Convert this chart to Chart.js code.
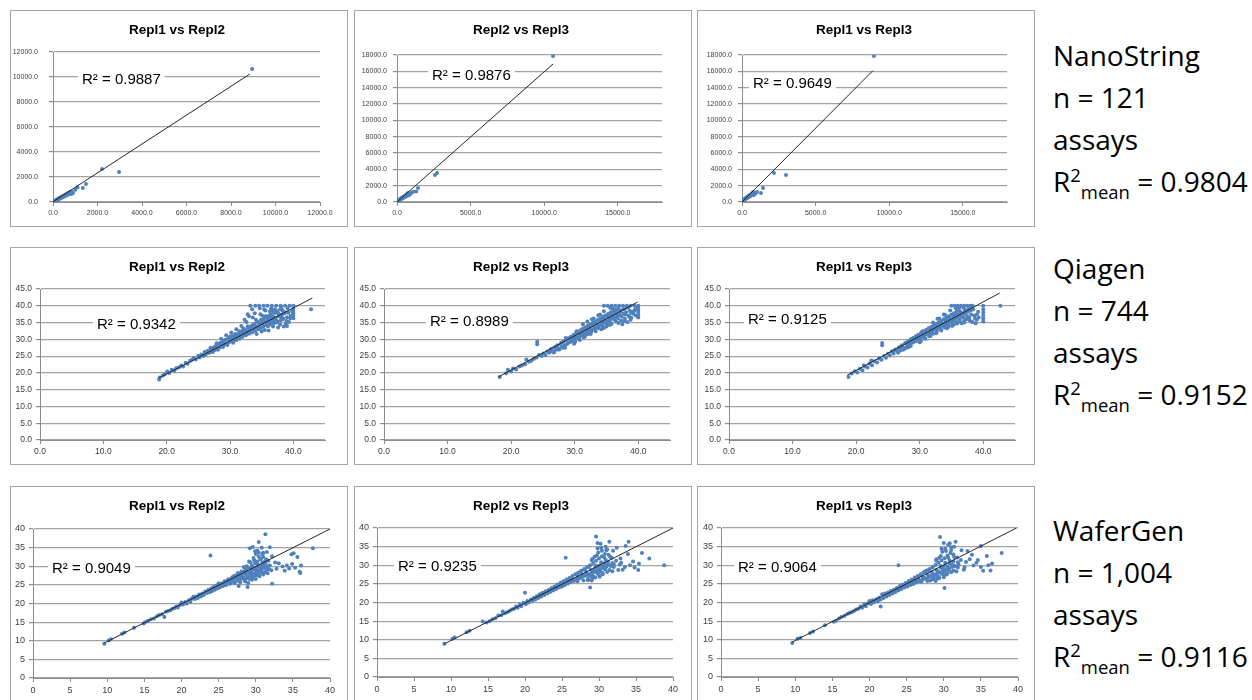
<!DOCTYPE html>
<html>
<head>
<meta charset="utf-8">
<script src="https://cdn.jsdelivr.net/npm/chart.js@4.4.1/dist/chart.umd.min.js"></script>
<style>
  body { margin: 0; background: #fff; }
  #wrap { position: relative; width: 1252px; height: 700px; overflow: hidden; background: #fff; }
  .panel { position: absolute; width: 336px; border: 1px solid #a6a6a6; background: #fff; }
  .panel canvas { display: block; }
  .side { position: absolute; left: 1053px; font: 28px 'Open Sans', sans-serif; line-height: 42px; color: #000; white-space: nowrap; }
  .sup { font-size: 0.66em; position: relative; top: -0.55em; line-height: 0; }
  .sub { font-size: 0.66em; position: relative; top: 0.38em; line-height: 0; }
</style>
</head>
<body>
<div id="wrap">
  <div class="panel" style="left:10px;top:10px"><canvas id="c0" width="336" height="215"></canvas></div>
  <div class="panel" style="left:354px;top:10px"><canvas id="c1" width="336" height="215"></canvas></div>
  <div class="panel" style="left:697px;top:10px"><canvas id="c2" width="336" height="215"></canvas></div>
  <div class="panel" style="left:10px;top:247px"><canvas id="c3" width="336" height="216"></canvas></div>
  <div class="panel" style="left:354px;top:247px"><canvas id="c4" width="336" height="216"></canvas></div>
  <div class="panel" style="left:697px;top:247px"><canvas id="c5" width="336" height="216"></canvas></div>
  <div class="panel" style="left:10px;top:486px"><canvas id="c6" width="336" height="215"></canvas></div>
  <div class="panel" style="left:354px;top:486px"><canvas id="c7" width="336" height="215"></canvas></div>
  <div class="panel" style="left:697px;top:486px"><canvas id="c8" width="336" height="215"></canvas></div>

  <div class="side" style="top:34px">NanoString<br>n = 121<br>assays<br>R<span class="sup">2</span><span class="sub">mean</span> = 0.9804</div>
  <div class="side" style="top:247px">Qiagen<br>n = 744<br>assays<br>R<span class="sup">2</span><span class="sub">mean</span> = 0.9152</div>
  <div class="side" style="top:509px">WaferGen<br>n = 1,004<br>assays<br>R<span class="sup">2</span><span class="sub">mean</span> = 0.9116</div>
</div>

<script>
// panel titles and R² values (rows: NanoString, Qiagen, WaferGen)
const titles = ["Repl1 vs Repl2", "Repl2 vs Repl3", "Repl1 vs Repl3"];
const r2Values = ["0.9887", "0.9876", "0.9649", "0.9342", "0.8989", "0.9125", "0.9049", "0.9235", "0.9064"];

// axis ranges / steps per panel: [xMax, xStep, yMax, yStep]
const axisRanges = [
  [12000, 2000, 12000, 2000], [18000, 5000, 18000, 2000], [18000, 5000, 18000, 2000],
  [45, 10, 45, 5], [45, 10, 45, 5], [45, 10, 45, 5],
  [40, 5, 40, 5], [40, 5, 40, 5], [40, 5, 40, 5]
];
// x tick labels of the two wide NanoString panels
const wideXTicks = [0, 5000, 10000, 15000];

// trendline endpoints
const trendLines = [
  [[0, 20], [8850, 10240]],
  [[0, 0], [10600, 16900]],
  [[0, 0], [8900, 16100]],
  [[18.8, 18.5], [43.0, 42.3]],
  [[18.0, 18.8], [39.9, 41.1]],
  [[18.6, 19.3], [42.6, 43.8]],
  [[9.6, 9.4], [40.0, 40.0]],
  [[9.1, 8.9], [40.0, 40.0]],
  [[9.6, 9.4], [39.8, 40.0]]
];

// NanoString
const ns12 = [[8950,10640],[2200,2640],[2970,2400],[1480,1440],[1340,1120],[1100,1180],[1000,980],
  [900,720],[860,800],[820,640],[780,760],[740,690],[700,620],[660,700],[640,560],[600,600],[580,520],[540,560],
  [520,470],[500,500],[470,420],[450,470],[420,380],[400,420],[380,340],[350,380],[330,300],[300,320],[280,260],
  [260,290],[240,220],[220,240],[200,180],[180,200],[160,140],[140,160],[120,110],[100,120],[90,80],[80,70],
  [60,60],[50,40],[40,50],[30,20],[20,30],[10,10],[5,20],[15,5],[70,90],[110,90],[150,170],[190,160],[230,260],
  [270,240],[310,350],[360,330],[410,450],[460,430],[560,610],[620,580],[680,650],[720,760],[760,700],[800,820]];
const ns23 = [[10600,17880],[2720,3550],[2580,3300],[1430,1700],[1300,1300],[1100,1250],[950,1100],
  [900,1000],[850,880],[800,1050],[760,820],[720,900],[680,760],[640,850],[600,700],[560,760],[520,620],[480,680],
  [450,560],[420,600],[380,500],[350,540],[320,440],[290,470],[260,380],[230,400],[200,320],[180,300],[160,260],
  [140,230],[120,200],[100,160],[80,130],[60,100],[40,70],[30,40],[20,30],[10,20],[5,10],[50,60],[70,120],
  [110,150],[150,210],[190,280],[240,340],[300,410],[360,480],[430,520],[500,710],[580,640],[660,930],[740,1100],[820,940]];
const ns13 = [[8960,17870],[2170,3550],[2990,3300],[1430,1700],[1290,1100],[1020,1220],[900,1000],[820,1150],
  [760,900],[700,1050],[660,820],[620,950],[580,740],[540,860],[500,660],[470,760],[440,580],[400,680],[370,520],
  [340,600],[310,460],[280,520],[250,400],[220,440],[200,340],[180,370],[160,280],[140,300],[120,220],[100,240],
  [80,170],[60,180],[50,110],[40,130],[30,60],[20,80],[10,30],[5,10],[70,140],[90,190],[130,260],[170,320],
  [210,380],[260,470],[320,540],[380,620],[450,700],[520,780],[600,880],[680,960],[740,1180],[800,850]];

// Qiagen
const qg12 = [[18.8,18.0],[18.9,18.6],[19.4,19.2],[19.7,19.6],[20.1,20.4],[20.4,20.0],[20.8,20.9],[21.2,20.7],
  [21.5,21.4],[21.9,21.6],[22.3,22.2],[22.6,21.9],[23.0,23.0],[23.3,22.7],[23.7,23.6],[24.0,23.9],[24.3,24.4],
  [24.6,24.0],[25.0,25.1],[25.2,24.6],[25.5,25.5],[25.8,25.0],[26.0,26.2],[26.2,25.6],[26.5,26.6],[26.7,25.9],
  [27.0,27.2],[27.1,26.4],[27.4,27.6],[27.6,26.8],[27.8,28.1],[28.0,27.3],[28.2,28.6],[28.4,27.6],[28.6,29.0],
  [28.8,28.1],[29.0,29.5],[29.1,28.4],[29.3,29.9],[29.5,28.7],[29.7,30.1],[29.9,29.2],[30.0,30.6],[30.2,29.5],
  [30.4,31.0],[30.5,29.0],[30.7,30.4],[30.9,31.4],[31.0,29.8],[31.2,30.9],[31.4,31.9],[31.5,30.2],[31.7,31.3],
  [31.9,32.4],[32.0,30.8],[32.2,31.8],[32.4,32.9],[32.5,31.2],[32.7,32.3],[32.9,33.5],[33.0,31.7],[33.2,32.8],
  [33.4,34.0],[33.5,32.0],[33.7,33.3],[33.9,34.6],[34.0,32.5],[34.2,33.7],[34.4,35.2],[34.5,33.0],[34.7,34.3],
  [34.9,35.8],[35.0,33.4],[35.2,34.8],[35.4,36.3],[35.5,32.8],[35.7,35.2],[35.9,36.9],[36.0,33.9],[36.2,35.6],
  [36.4,37.4],[36.5,34.4],[36.7,36.1],[36.9,37.9],[37.0,34.9],[37.2,36.5],[37.4,38.4],[37.5,35.3],[37.7,36.9],
  [37.9,38.9],[38.0,35.7],[38.2,37.3],[38.4,36.2],[38.6,37.8],[38.8,34.6],[39.0,36.6],[39.3,35.2],[39.6,37.0],
  [33.2,40],[34.0,40],[34.6,40],[35.3,40],[35.9,40],[36.6,40],[37.3,40],[38.0,40],[38.7,40],[39.4,40],
  [40,40],[40,39.2],[40,38.5],[40,37.8],[40,37.0],[40,36.3],
  [42.8,39.0],[38.5,33.8],[37.6,33.5],[36.5,39.2],[35.6,38.6],[34.8,37.5],[33.6,36.5],[32.6,35.2],[31.8,34.0],
  [31.0,33.0],[30.2,32.0],[29.4,31.2],[28.6,30.2],[39.1,39.2],[38.3,38.7],[36.1,32.6],[34.2,31.6],
  [30.3,30.0],[31.1,31.2],[31.6,30.6],[32.3,32.5],[33.1,33.0],[33.8,33.9],[34.6,34.6],[35.3,35.4],[36.0,36.2],
  [36.8,36.8],[37.6,37.8],[38.4,38.2],[34.1,35.8],[35.1,37.0],[36.3,38.3],[37.1,39.0],[35.8,34.2],[36.6,35.0],
  [37.3,35.7],[38.1,36.5],[33.3,33.8],[32.8,32.0],[29.8,30.5],[28.9,29.3],[27.9,28.8],[27.3,27.0],[26.4,26.2],
  [26.1,25.3],[26.9,27.4],[27.3,26.2],[27.7,27.8],[28.1,26.9],[28.5,28.9],[28.9,27.7],[29.2,29.8],[29.6,28.3],
  [30.1,30.9],[30.6,29.6],[30.8,31.6],[31.3,30.5],[31.5,32.4],[31.9,31.1],[32.1,33.2],[32.6,31.5],[32.8,33.9],
  [33.1,32.2],[33.6,34.3],[33.8,32.9],[34.3,35.3],[34.5,33.6],[34.9,34.9],[35.3,33.9],[35.6,36.9],[35.9,35.5],
  [36.2,34.7],[36.4,36.5],[36.7,38.6],[36.9,35.6],[37.2,37.9],[37.4,35.0],[37.8,37.4],[38.1,39.4],[38.3,36.0],
  [38.7,38.0],[38.9,35.5],[39.2,37.9],[39.5,36.3],[39.8,38.4],[34.7,39.3],[35.4,38.9],[33.9,37.8],[33.0,36.9],
  [32.3,35.8],[35.0,32.3],[36.8,33.8],[37.9,34.4],[39.0,34.0],[33.5,39.0],[32.8,37.5]];
const qg23 = [[18.2,18.8],[19.2,19.9],[19.5,20.9],[20.0,20.4],[20.3,21.3],[20.8,21.0],[21.3,21.9],[21.7,22.2],
  [22.2,22.6],[22.4,24.0],[22.8,23.3],[23.2,23.6],[23.6,24.2],[24.1,29.3],[24.1,28.5],[24.0,24.6],[24.4,25.3],
  [24.8,25.0],[25.1,25.8],[25.4,25.3],[25.7,26.4],[26.0,26.0],[26.3,27.1],[26.5,26.4],[26.8,27.6],[27.0,26.9],
  [27.3,28.2],[27.5,27.3],[27.8,28.7],[28.0,27.8],[28.2,29.3],[28.4,28.2],[28.6,29.8],[28.8,28.6],[29.0,30.3],
  [29.2,29.1],[29.4,30.8],[29.6,29.5],[29.8,31.3],[30.0,30.0],[30.2,31.8],[30.4,30.4],[30.6,32.3],[30.8,30.9],
  [31.0,32.8],[31.1,31.3],[31.3,33.2],[31.5,31.7],[31.7,33.6],[31.9,32.1],[32.1,34.1],[32.3,32.5],[32.5,34.5],
  [32.7,32.9],[32.9,35.0],[33.1,33.3],[33.3,35.4],[33.5,33.7],[33.7,35.9],[33.9,34.1],[34.1,36.3],[34.3,34.6],
  [34.5,36.8],[34.7,35.0],[34.9,37.2],[35.1,35.4],[35.3,37.6],[35.5,35.8],[35.7,38.1],[35.9,36.2],[36.1,38.5],
  [36.3,36.6],[36.5,38.9],[36.7,36.9],[36.9,39.3],[37.1,37.3],[37.3,35.6],[37.5,34.5],[37.7,37.7],[37.9,36.2],
  [38.1,38.1],[38.3,35.2],[38.5,37.0],[38.7,38.5],[38.9,36.4],[39.2,37.6],[39.5,38.8],
  [34.6,40],[35.2,40],[35.8,40],[36.4,40],[37.0,40],[37.6,40],[38.2,40],[38.8,40],[39.4,40],
  [40,40],[40,39.3],[40,38.6],[40,37.9],[40,37.2],[40,36.5],
  [29.5,29.9],[30.1,30.8],[30.7,31.3],[31.2,32.0],[31.8,32.7],[32.4,33.3],[33.0,34.0],[33.6,34.6],[34.2,35.3],
  [34.8,35.9],[35.4,36.6],[36.0,37.2],[36.6,37.8],[37.2,38.4],[37.8,39.0],[38.4,39.4],[35.0,33.8],[35.8,34.6],
  [36.5,35.3],[34.2,33.0],[33.3,32.4],[32.5,31.6],[31.6,30.8],[30.8,29.8],[32.0,35.3],[33.0,36.2],[34.0,37.4],
  [29.9,28.7],[28.5,27.5],[27.6,27.0],[26.8,26.3],
  [26.2,26.9],[26.7,26.1],[27.1,27.9],[27.4,27.0],[27.9,29.0],[28.1,27.5],[28.6,30.4],[28.9,28.9],[29.3,29.3],
  [29.7,30.6],[30.1,29.3],[30.3,32.4],[30.7,30.0],[31.0,31.6],[31.4,30.6],[31.6,32.9],[32.0,31.5],[32.2,33.6],
  [32.6,32.2],[32.8,34.3],[33.2,32.8],[33.4,34.8],[33.8,33.3],[34.0,35.7],[34.4,34.0],[34.6,36.2],[35.0,34.7],
  [35.2,36.9],[35.6,35.1],[35.8,37.4],[36.2,35.9],[36.4,37.9],[36.8,36.2],[37.0,38.6],[37.4,36.8],[37.6,39.0],
  [38.0,37.4],[38.2,39.6],[38.6,36.7],[38.9,37.9],[39.3,38.4],[39.6,37.1],[39.8,39.6],[33.7,37.2],[34.6,38.4],
  [35.6,39.4],[32.7,36.0],[36.9,34.9],[37.8,35.5],[38.8,35.8],[35.5,34.3],[34.6,33.4],[36.0,39.1],[31.3,34.5]];
const qg13 = [[18.8,18.8],[19.3,19.8],[19.8,20.5],[20.2,20.1],[20.6,21.2],[21.0,20.8],[21.4,21.9],[21.8,21.6],
  [22.1,22.8],[22.5,22.3],[22.9,23.5],[23.3,23.1],[23.6,24.3],[24.0,23.9],[24.1,28.9],[24.1,28.2],[24.4,25.0],
  [24.7,24.5],[25.0,25.7],[25.3,25.2],[25.6,26.4],[25.9,25.8],[26.2,27.0],[26.5,26.4],[26.7,27.6],[27.0,26.9],
  [27.2,28.2],[27.5,27.5],[27.7,28.8],[28.0,28.0],[28.2,29.4],[28.4,28.5],[28.6,29.9],[28.8,29.0],[29.0,30.4],
  [29.2,29.5],[29.4,30.9],[29.6,29.9],[29.8,31.4],[30.0,30.3],[30.2,31.9],[30.4,30.8],[30.6,32.4],[30.8,31.2],
  [31.0,32.8],[31.2,31.6],[31.4,33.3],[31.6,32.0],[31.8,33.7],[32.0,32.5],[32.2,34.2],[32.4,32.9],[32.6,34.6],
  [32.8,33.3],[33.0,35.1],[33.2,33.7],[33.4,35.5],[33.6,34.1],[33.8,36.0],[34.0,34.5],[34.2,36.4],[34.4,34.9],
  [34.6,36.9],[34.8,35.3],[35.0,37.3],[35.2,35.7],[35.4,37.8],[35.6,36.1],[35.8,38.2],[36.0,36.5],[36.2,38.6],
  [36.4,36.9],[36.6,34.8],[36.8,37.3],[37.0,35.4],[37.2,37.7],[37.4,36.0],[37.6,38.2],[37.8,36.4],[38.0,38.6],
  [38.3,35.2],[38.6,37.0],[38.8,34.8],[39.0,35.8],[39.2,38.2],
  [35.0,40],[35.5,40],[36.0,40],[36.5,40],[37.0,40],[37.5,40],[38.0,40],[38.3,40],
  [40,40],[40,39.0],[40,38.0],[40,37.0],[40,36.2],[40,35.3],[42.7,40.0],
  [29.3,30.0],[29.9,30.7],[30.5,31.3],[31.1,32.0],[31.7,32.6],[32.3,33.3],[32.9,33.9],[33.5,34.6],[34.1,35.2],
  [34.7,35.9],[35.3,36.5],[35.9,37.1],[36.5,37.7],[37.1,38.3],[37.7,38.9],[38.3,39.3],[35.1,34.0],[35.9,34.7],
  [36.3,35.5],[34.3,33.3],[33.4,32.6],[32.6,31.8],[31.7,31.0],[30.9,30.2],[32.1,35.0],[33.1,36.2],[34.0,37.3],
  [36.9,39.4],[30.0,29.1],[28.6,28.0],[27.7,27.3],[26.9,26.6],[22.4,23.7],[21.2,22.3],
  [26.0,26.7],[26.6,26.0],[27.0,27.8],[27.4,26.9],[27.9,29.0],[28.2,27.6],[28.7,30.2],[29.0,29.1],[29.4,29.4],
  [29.8,30.7],[30.2,29.5],[30.4,32.3],[30.8,30.3],[31.1,31.7],[31.5,30.9],[31.7,33.1],[32.1,31.7],[32.3,33.7],
  [32.7,32.3],[32.9,34.4],[33.3,33.0],[33.5,34.9],[33.9,33.5],[34.1,35.8],[34.5,34.2],[34.7,36.3],[35.1,34.8],
  [35.3,37.0],[35.7,35.3],[35.9,37.5],[36.3,36.0],[36.5,38.1],[36.9,36.4],[37.1,38.8],[37.5,36.9],[37.7,39.2],
  [38.1,37.4],[38.4,38.9],[38.7,36.2],[39.0,37.4],[39.3,36.5],[33.8,37.4],[34.8,38.6],[35.7,39.3],[32.8,36.1],
  [37.0,35.0],[37.9,35.6],[35.4,34.4],[34.5,33.7],[36.2,39.3]];

// WaferGen
const wg12 = [[9.6,9.2],[10.2,10.1],[10.5,10.4],[12.0,11.9],[12.3,12.2],[13.6,13.5],[14.9,14.6],[15.1,15.0],
  [15.5,15.4],[15.9,15.8],[16.3,16.0],[16.7,16.6],[17.0,16.9],[17.4,17.1],[17.7,16.4],[17.9,17.8],[18.2,18.0],
  [18.5,18.2],[18.8,18.6],[19.0,18.7],[19.3,19.2],[19.5,18.9],[19.8,19.6],[20.0,20.3],[20.2,19.7],[20.5,20.4],
  [20.7,20.0],[21.0,20.9],[21.2,20.5],[21.4,21.3],[21.6,21.8],[21.8,21.2],[22.0,21.9],[22.2,21.5],[22.4,22.4],
  [22.6,21.9],[22.8,22.7],[23.0,22.3],[23.2,23.2],[23.4,22.8],[23.6,23.6],[23.8,23.0],[24.0,24.0],[24.1,23.3],
  [24.3,24.4],[24.5,23.7],[24.7,24.8],[24.9,24.1],[25.0,25.4],[25.2,24.4],[25.4,25.4],[25.6,24.7],[25.8,26.0],
  [26.0,25.0],[26.1,25.8],[26.3,26.5],[26.5,25.3],[26.6,26.2],[26.8,27.0],[27.0,25.8],[27.1,26.6],[27.3,27.5],
  [27.5,26.1],[27.6,27.0],[27.8,28.0],[28.0,26.6],[28.1,27.4],[28.3,28.5],[28.4,26.9],[28.6,27.9],[28.7,29.0],
  [28.9,27.3],[29.0,28.3],[29.1,29.6],[29.3,27.6],[29.4,28.7],[29.5,30.2],[29.7,28.0],[29.8,29.2],[29.9,30.8],
  [30.0,28.4],[30.1,29.7],[30.2,31.3],[30.3,28.8],[30.5,30.0],[30.6,31.8],[30.7,29.2],[30.9,30.4],[31.0,32.5],
  [31.1,29.5],[31.3,30.8],[31.5,29.0],[31.7,31.5],[31.9,30.2],[32.1,28.9],
  [26.9,26.5],[27.4,26.9],[27.9,27.6],[28.4,28.0],[28.9,28.5],[29.4,29.0],[29.9,29.5],[30.4,30.1],[29.6,27.2],
  [30.1,27.6],[30.6,28.2],[28.5,26.2],[29.2,26.6],[29.8,31.6],[30.4,32.6],[29.3,31.0],[28.8,30.0],[30.9,33.2],
  [31.2,31.2],[31.6,30.0],[26.4,25.9],[25.5,25.1],[24.6,24.3],
  [23.9,32.9],[31.3,38.6],[30.4,36.5],[29.6,35.2],[30.8,35.0],[31.9,35.1],[29.2,34.8],[30.2,34.2],[32.2,25.3],
  [28.9,24.4],[33.1,30.8],[33.6,29.9],[34.2,30.2],[34.8,33.2],[35.1,33.5],[35.6,32.5],[35.3,29.6],[36.0,28.2],
  [36.1,30.2],[34.5,29.4],[32.6,31.0],[32.2,32.7],[37.7,34.8],[35.9,28.5],[34.9,30.6],[32.8,29.3],[33.9,28.8],
  [31.5,33.8],[30.0,33.3],[28.4,29.8],[27.7,24.7],
  [27.2,25.5],[27.6,26.4],[27.9,25.7],[28.2,27.0],[28.6,25.9],[28.8,26.8],[29.0,25.5],[29.1,27.0],[29.3,28.2],
  [29.5,26.4],[29.6,29.5],[29.8,27.5],[30.0,29.0],[30.0,26.6],[30.2,28.1],[30.3,30.4],[30.5,27.3],[30.6,29.4],
  [30.8,28.6],[30.9,31.0],[31.0,27.8],[31.1,30.1],[31.2,28.4],[31.4,29.5],[31.6,28.1],[31.8,29.2],[31.4,31.9],
  [30.7,32.0],[29.7,32.2],[29.1,31.3],[28.6,29.3],[28.1,28.6],[27.6,28.2],[27.0,27.3],[26.6,25.6],[26.2,26.0],
  [25.8,25.4],[25.3,24.9],[24.8,24.5],[24.3,23.9],[23.8,23.5],[23.3,23.0],[22.8,22.4],[22.3,22.0],[30.4,33.7],
  [31.0,33.6],[29.9,34.0]];
const wg23 = [[9.1,8.9],[10.2,10.3],[10.5,10.6],[12.1,12.0],[12.5,12.4],[14.3,14.9],[14.8,14.6],[15.2,15.0],
  [15.6,15.5],[16.0,15.8],[16.4,16.5],[16.8,16.6],[17.0,17.6],[17.3,17.1],[17.6,17.4],[17.9,17.7],[18.2,18.1],
  [18.5,18.3],[18.8,18.9],[19.0,18.6],[19.3,19.4],[19.5,19.0],[19.8,19.9],[20.0,22.6],[20.1,19.5],[20.3,20.4],
  [20.5,20.0],[20.8,20.8],[21.0,20.4],[21.2,21.3],[21.4,20.8],[21.6,21.7],[21.8,21.2],[22.0,22.2],[22.2,21.6],
  [22.4,22.6],[22.6,22.0],[22.8,23.0],[23.0,22.4],[23.2,23.4],[23.4,22.8],[23.6,23.9],[23.8,23.2],[24.0,24.3],
  [24.2,23.6],[24.4,24.8],[24.6,24.0],[24.8,25.3],[25.0,24.3],[25.2,25.7],[25.4,24.7],[25.5,32.0],[25.6,26.2],
  [25.8,25.1],[26.0,26.6],[26.2,25.5],[26.4,27.1],[26.6,25.8],[26.8,27.6],[27.0,26.2],[27.2,28.0],[27.4,26.5],
  [27.6,28.5],[27.8,26.9],[28.0,29.0],[28.2,27.2],[28.4,29.5],[28.6,27.6],[28.8,24.0],[28.8,30.0],[29.0,27.9],
  [29.2,30.6],[29.4,28.2],[29.6,31.2],[29.6,37.7],[29.8,28.6],[30.0,31.8],[30.2,29.0],[30.4,32.4],[30.6,29.3],
  [30.8,33.0],[31.0,29.6],[31.2,31.0],[31.4,36.3],[31.5,29.9],[31.7,32.0],[32.0,30.3],[32.3,31.2],[32.6,28.7],
  [26.5,26.3],[27.1,26.9],[27.7,27.5],[28.3,28.1],[28.9,28.7],[29.5,29.3],[30.1,29.9],[30.7,30.5],[29.3,26.9],
  [30.0,27.4],[30.5,27.9],[28.5,26.0],[29.1,26.5],[29.9,33.4],[30.3,34.6],[29.4,32.3],[29.0,31.4],[30.9,35.0],
  [31.3,32.8],[31.8,30.6],[26.1,25.9],[25.3,25.0],[24.5,24.4],[30.2,35.8],[29.8,36.0],[31.0,34.0],
  [33.6,35.2],[34.0,36.3],[35.8,33.3],[36.8,31.8],[38.8,30.0],[35.3,28.7],[35.4,30.5],[34.2,30.0],[33.0,30.7],
  [33.5,29.5],[32.9,31.8],[34.6,31.0],[33.9,33.0],[32.4,34.7],[32.8,30.2],[31.9,33.9],[33.2,28.8],[34.8,29.4],
  [27.1,25.7],[27.5,26.7],[27.9,25.9],[28.1,27.3],[28.5,26.3],[28.7,27.1],[29.0,25.9],[29.1,27.3],[29.3,28.5],
  [29.5,26.7],[29.6,29.9],[29.8,27.8],[30.0,29.4],[30.1,26.9],[30.2,28.4],[30.3,30.8],[30.5,27.6],[30.6,29.7],
  [30.8,28.9],[30.9,31.4],[31.1,28.2],[31.2,30.3],[31.4,28.7],[31.6,29.8],[31.8,28.4],[32.0,29.5],[31.5,32.3],
  [30.7,32.1],[29.7,32.6],[29.1,31.7],[28.6,29.5],[28.1,28.8],[27.6,28.4],[27.0,27.5],[26.6,25.9],[26.2,26.2],
  [25.8,25.6],[25.3,25.2],[24.8,24.7],[24.3,24.1],[23.8,23.7],[23.3,23.2],[22.8,22.7],[22.3,22.3],[30.4,33.9],
  [31.1,34.2],[29.8,34.5]];
const wg13 = [[9.6,9.1],[10.3,10.3],[10.7,10.5],[12.0,11.8],[12.4,12.2],[14.0,13.9],[15.2,14.8],[15.5,15.1],
  [15.9,15.7],[16.2,16.1],[16.6,16.4],[17.0,16.9],[17.3,17.2],[17.6,17.4],[17.9,17.7],[18.2,18.1],[18.5,18.3],
  [18.8,18.9],[19.0,18.6],[19.3,19.5],[19.5,19.0],[19.8,19.8],[20.0,20.4],[20.2,19.6],[20.4,20.6],[20.6,20.0],
  [20.9,20.9],[21.1,20.3],[21.3,21.3],[21.5,18.9],[21.5,20.8],[21.7,22.2],[21.9,21.2],[22.1,22.4],[22.3,21.6],
  [22.5,22.7],[22.7,22.0],[22.9,23.1],[23.1,22.4],[23.3,23.5],[23.5,22.8],[23.7,23.9],[23.9,30.0],[23.9,23.2],
  [24.1,24.4],[24.3,23.6],[24.5,24.8],[24.7,24.0],[24.9,25.3],[25.1,24.3],[25.3,25.8],[25.5,24.7],[25.7,26.2],
  [25.9,25.0],[26.1,26.7],[26.3,25.4],[26.5,27.1],[26.7,25.7],[26.9,27.6],[27.1,26.1],[27.3,28.1],[27.5,26.4],
  [27.7,28.6],[27.9,26.8],[28.1,29.0],[28.3,27.1],[28.5,29.6],[28.6,26.3],[28.7,27.5],[28.9,30.1],[29.1,27.8],
  [29.3,30.7],[29.5,37.6],[29.5,28.1],[29.7,31.3],[29.9,28.5],[30.0,36.0],[30.1,23.9],[30.1,31.9],[30.3,28.8],
  [30.5,32.6],[30.6,35.5],[30.7,29.2],[30.9,33.3],[31.1,29.5],[31.3,31.0],[31.5,29.8],[31.6,36.3],[31.8,32.1],
  [32.0,30.2],[32.3,31.4],
  [26.6,26.3],[27.2,26.9],[27.8,27.5],[28.4,28.1],[29.0,28.7],[29.6,29.3],[30.2,29.9],[30.8,30.5],[29.3,26.9],
  [30.0,27.4],[30.5,27.9],[28.2,25.9],[29.1,26.4],[29.8,33.6],[30.2,34.4],[29.4,32.0],[29.0,31.2],[31.0,34.8],
  [31.3,32.9],[31.9,30.8],[26.0,25.8],[25.2,25.0],[24.4,24.2],[31.4,35.0],[30.8,35.9],
  [35.0,35.2],[35.8,32.5],[37.8,33.3],[36.5,30.5],[34.0,29.9],[33.5,31.6],[35.3,28.5],[36.3,28.6],[35.0,29.5],
  [33.0,30.9],[32.8,29.4],[34.4,30.7],[33.8,32.8],[32.4,34.0],[32.7,28.8],[36.0,30.0],[33.2,33.8],[34.6,31.4],
  [27.0,25.6],[27.4,26.6],[27.8,25.8],[28.0,27.2],[28.4,26.2],[28.7,27.0],[28.9,25.8],[29.0,27.3],[29.2,28.4],
  [29.4,26.6],[29.6,29.8],[29.7,27.7],[29.9,29.3],[30.0,26.8],[30.1,28.3],[30.2,30.7],[30.4,27.5],[30.5,29.6],
  [30.7,28.8],[30.8,31.3],[31.0,28.1],[31.1,30.2],[31.3,28.6],[31.5,29.7],[31.7,28.3],[31.9,29.4],[31.4,32.2],
  [30.6,32.0],[29.6,32.5],[29.0,31.6],[28.5,29.4],[28.0,28.7],[27.5,28.3],[26.9,27.4],[26.5,25.8],[26.1,26.1],
  [25.7,25.5],[25.2,25.1],[24.7,24.6],[24.2,24.0],[23.7,23.6],[23.2,23.1],[22.7,22.6],[22.2,22.2],[30.3,33.8],
  [31.0,34.1],[29.7,34.4]];

const seriesData = [ns12, ns23, ns13, qg12, qg23, qg13, wg12, wg23, wg13];

// plot area inside each canvas: [left, top, right, bottom]
const plotBoxes = [
  [42, 41, 309, 191], [42, 44, 307, 191], [44, 44, 309, 191],
  [29, 41, 314, 192], [29, 41, 315, 192], [31, 41, 317, 192],
  [22, 42, 319, 191], [22, 41, 318, 190], [23, 41, 320, 190]
];
// R² label spot: [left x, centre y]
const labelSpots = [[71, 69], [77, 65], [55, 73], [86, 77], [75, 74], [50, 72], [41, 82], [43, 80], [40, 81]];

const FONT = "'Liberation Sans', Arial, sans-serif";
const GRID = "#a3a3a3";
const AXIS = "#8c8c8c";

const xy = arr => arr.map(p => ({ x: p[0], y: p[1] }));

function makePanel(i) {
  const canvas = document.getElementById("c" + i);
  const W = canvas.width, H = canvas.height;
  const [xMax, xStep, yMax, yStep] = axisRanges[i];
  const box = plotBoxes[i];
  const row = Math.floor(i / 3);
  const tickSize = [7, 8.5, 9][row];
  const fmt = row === 2 ? (v => String(v)) : (v => v.toFixed(1));
  const yPad = i === 0 ? 11 : (row === 0 ? 6 : 4);

  const labelPlugin = {
    id: "labels" + i,
    afterDraw(chart) {
      const ctx = chart.ctx;
      ctx.save();
      ctx.fillStyle = "#000";
      ctx.font = "bold 13.5px " + FONT;
      ctx.textAlign = "center";
      ctx.textBaseline = "middle";
      ctx.fillText(titles[i % 3], 166, 19);

      const txt = "R\u00b2 = " + r2Values[i];
      ctx.font = "15px " + FONT;
      const w = ctx.measureText(txt).width;
      const [lx, ly] = labelSpots[i];
      ctx.fillStyle = "#fff";
      ctx.fillRect(lx - 4, ly - 9, w + 8, 18);
      ctx.fillStyle = "#000";
      ctx.textAlign = "left";
      ctx.fillText(txt, lx, ly);
      ctx.restore();
    }
  };

  new Chart(canvas, {
    type: "scatter",
    data: {
      datasets: [
        {
          data: xy(trendLines[i]),
          showLine: true,
          borderColor: "#262626",
          borderWidth: 1,
          pointRadius: 0,
          order: 0
        },
        {
          data: xy(seriesData[i]),
          backgroundColor: "#4f81bd",
          borderWidth: 0,
          pointRadius: 2,
          order: 1
        }
      ]
    },
    options: {
      responsive: false,
      animation: false,
      events: [],
      layout: { padding: { top: box[1], right: W - box[2], left: 0, bottom: 0 } },
      plugins: { legend: { display: false }, tooltip: { enabled: false } },
      scales: {
        x: {
          type: "linear",
          min: 0,
          max: xMax,
          afterFit: s => { s.height = H - box[3]; },
          afterBuildTicks: s => {
            if (i === 1 || i === 2) s.ticks = wideXTicks.map(v => ({ value: v }));
          },
          ticks: {
            stepSize: xStep, includeBounds: false, autoSkip: false, maxRotation: 0,
            padding: 3, color: "#404040", font: { family: FONT, size: tickSize },
            callback: v => fmt(v)
          },
          grid: { drawOnChartArea: false, tickLength: 4, tickColor: AXIS },
          border: { color: AXIS }
        },
        y: {
          type: "linear",
          min: 0,
          max: yMax,
          afterFit: s => { s.width = box[0]; },
          ticks: {
            stepSize: yStep, autoSkip: false, padding: yPad,
            color: "#404040", font: { family: FONT, size: tickSize },
            callback: v => fmt(v)
          },
          grid: { color: GRID, lineWidth: 1.2, tickLength: 4, tickColor: AXIS },
          border: { color: AXIS }
        }
      }
    },
    plugins: [labelPlugin]
  });
}

for (let i = 0; i < 9; i++) makePanel(i);
</script>
</body>
</html>
